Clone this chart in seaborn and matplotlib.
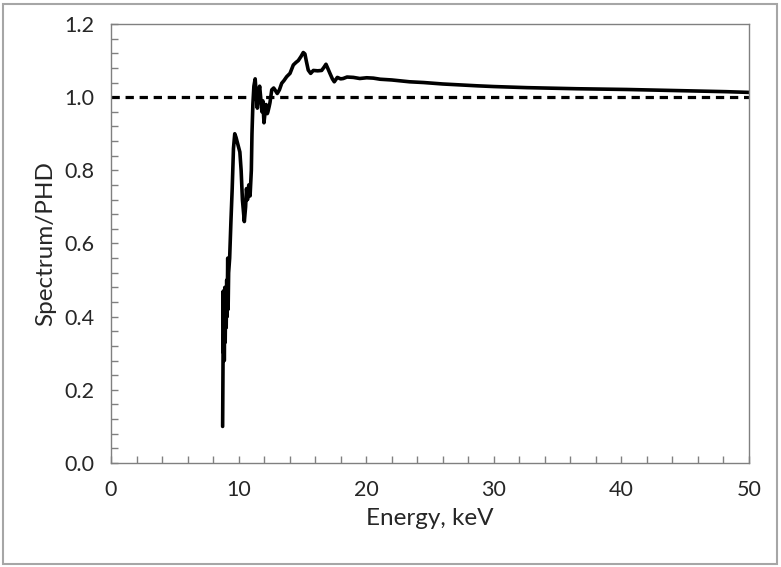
import pandas as pd
import seaborn as sns
import matplotlib.pyplot as plt
from matplotlib.ticker import MultipleLocator, FormatStrFormatter
from matplotlib.patches import Rectangle

# 데이터
energy = [8.75, 8.78, 8.80, 8.83, 8.86, 8.88, 8.92, 8.95, 9.00, 9.03, 9.07, 9.10,
          9.15, 9.18, 9.22, 9.30, 9.40, 9.50, 9.60, 9.70, 9.80, 9.95, 10.10, 10.20,
          10.30, 10.45, 10.55, 10.62, 10.70, 10.80, 10.90, 11.00, 11.05, 11.12, 11.20,
          11.30, 11.40, 11.47, 11.55, 11.65, 11.73, 11.83, 11.90, 11.99, 12.08, 12.15,
          12.25, 12.30, 12.40, 12.46, 12.60, 12.75, 12.85, 13.03, 13.20, 13.38, 13.55,
          13.77, 14.03, 14.29, 14.50, 14.68, 14.89, 15.07, 15.20, 15.30, 15.46, 15.65,
          15.86, 16.20, 16.51, 16.70, 16.85, 17.00, 17.16, 17.35, 17.50, 17.74, 18.00,
          18.20, 18.50, 18.99, 19.50, 20.04, 20.56, 21.10, 22.00, 23.40, 24.50, 26.00,
          28.70, 30.00, 32.60, 36.50, 40.40, 44.30, 48.20, 50.00]
ratio = [0.10, 0.27, 0.47, 0.30, 0.44, 0.28, 0.48, 0.33, 0.48, 0.37, 0.50, 0.40,
         0.56, 0.42, 0.52, 0.56, 0.66, 0.75, 0.86, 0.90, 0.89, 0.87, 0.85, 0.80,
         0.72, 0.66, 0.70, 0.75, 0.72, 0.76, 0.73, 0.80, 0.90, 0.98, 1.03,
         1.05, 1.00, 0.97, 1.01, 1.03, 1.00, 0.96, 0.99, 0.93, 0.96, 0.98,
         0.955, 0.96, 0.975, 0.985, 1.02, 1.025, 1.02, 1.01, 1.02, 1.038, 1.045,
         1.056, 1.065, 1.088, 1.095, 1.10, 1.111, 1.122, 1.118, 1.10, 1.074, 1.065,
         1.073, 1.072, 1.073, 1.082, 1.09, 1.078, 1.065, 1.05, 1.042, 1.054, 1.05,
         1.051, 1.055, 1.054, 1.051, 1.053, 1.052, 1.049, 1.047, 1.042, 1.04, 1.036,
         1.031, 1.029, 1.026, 1.023, 1.021, 1.018, 1.015, 1.013]
reference_level = 1.0

df = pd.DataFrame({'Energy': energy, 'Ratio': ratio})

sns.set_style('ticks')
plt.rcParams['font.family'] = ['Lato', 'DejaVu Sans']

fig = plt.figure(figsize=(7.81, 5.67), dpi=100)
ax = fig.add_axes([0.1421, 0.1834, 0.8169, 0.7743])

# 스펙트럼 비율 곡선
sns.lineplot(data=df, x='Energy', y='Ratio', ax=ax, color='black', linewidth=2.6,
             estimator=None)
ax.axhline(reference_level, color='black', linewidth=2.3, linestyle=(0, (2.6, 1.8)))

ax.set_xlim(0, 50)
ax.set_ylim(0, 1.2)
ax.xaxis.set_major_locator(MultipleLocator(10))
ax.xaxis.set_minor_locator(MultipleLocator(2))
ax.yaxis.set_major_locator(MultipleLocator(0.2))
ax.yaxis.set_minor_locator(MultipleLocator(0.04))
ax.yaxis.set_major_formatter(FormatStrFormatter('%.1f'))

for side in ax.spines.values():
    side.set_color('#808080')
    side.set_linewidth(1.0)
ax.tick_params(which='both', direction='in', color='#808080', width=1.0, length=5)
ax.tick_params(axis='x', which='major', pad=12, labelsize=15.5, labelcolor='#262626')
ax.tick_params(axis='y', which='major', pad=12, labelsize=15.5, labelcolor='#262626')

ax.set_xlabel('Energy, keV', fontsize=17.5, color='#262626', labelpad=6)
ax.set_ylabel('Spectrum/PHD', fontsize=17.5, color='#262626', labelpad=6)

# 차트 외곽 테두리
fig.add_artist(Rectangle((0.004, 0.006), 0.991, 0.987, transform=fig.transFigure,
                         fill=False, edgecolor='#a6a6a6', linewidth=1.5))

fig.savefig('out.png', dpi=100)
